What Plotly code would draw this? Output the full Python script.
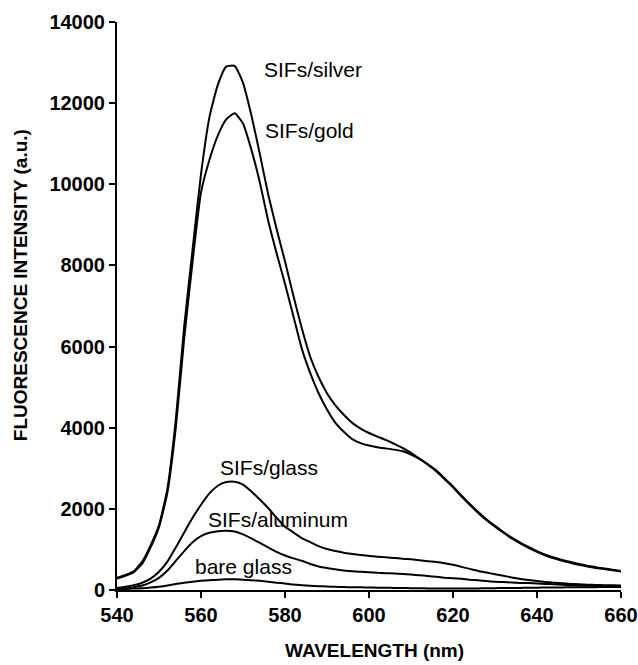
import plotly.graph_objects as go

wavelength = list(range(540, 661, 2))

sifs_silver = [300, 370, 460, 700, 1100, 1600, 2500, 4200, 6500, 8400,
               10250, 11650, 12450, 12900, 12920, 12500, 11700, 10750, 9750, 8900,
               8100, 7250, 6450, 5750, 5250, 4850, 4550, 4320, 4120, 3980,
               3870, 3780, 3700, 3600, 3500, 3380, 3240, 3100, 2950, 2750,
               2550, 2330, 2120, 1920, 1740, 1580, 1430, 1290, 1170, 1060,
               960, 870, 800, 740, 690, 640, 600, 560, 530, 500, 470]

sifs_gold = [280, 350, 440, 650, 1050, 1550, 2400, 4000, 6200, 8100,
             9800, 10600, 11200, 11600, 11750, 11500, 10850, 10050, 9100, 8300,
             7550, 6750, 5950, 5350, 4850, 4450, 4120, 3900, 3720, 3620,
             3560, 3520, 3490, 3460, 3420, 3340, 3230, 3090, 2930, 2730,
             2530, 2310, 2100, 1900, 1720, 1560, 1410, 1270, 1150, 1040,
             940, 850, 780, 720, 670, 620, 580, 545, 515, 485, 455]

sifs_glass = [50, 80, 120, 180, 280, 450, 700, 1050, 1420, 1780,
              2100, 2380, 2570, 2660, 2670, 2600, 2430, 2230, 2020, 1780,
              1560, 1420, 1280, 1180, 1080, 1010, 960, 920, 890, 860,
              840, 820, 805, 790, 770, 755, 735, 710, 690, 660,
              620, 570, 520, 470, 430, 390, 350, 310, 270, 245,
              220, 200, 180, 165, 150, 140, 130, 125, 120, 115, 110]

sifs_aluminum = [20, 40, 70, 110, 190, 300, 480, 720, 960, 1180,
                 1330, 1410, 1450, 1460, 1440, 1370, 1270, 1160, 1050, 940,
                 850, 780, 720, 640, 580, 540, 510, 480, 460, 450,
                 440, 425, 415, 405, 395, 380, 365, 345, 325, 305,
                 290, 275, 255, 240, 220, 205, 195, 185, 175, 170,
                 160, 150, 140, 130, 120, 110, 105, 100, 95, 90, 85]

bare_glass = [20, 25, 35, 45, 60, 80, 110, 150, 180, 205,
              225, 240, 255, 262, 265, 255, 240, 225, 205, 180,
              160, 135, 120, 105, 95, 85, 78, 72, 68, 65,
              62, 58, 55, 52, 50, 45, 42, 40, 38, 36,
              35, 36, 38, 40, 42, 45, 48, 50, 52, 55,
              58, 60, 62, 64, 66, 68, 70, 70, 72, 72, 72]

series = [("SIFs/silver", sifs_silver), ("SIFs/gold", sifs_gold),
          ("SIFs/glass", sifs_glass), ("SIFs/aluminum", sifs_aluminum),
          ("bare glass", bare_glass)]

# label positions (wavelength, intensity)
label_names = ["SIFs/silver", "SIFs/gold", "SIFs/glass", "SIFs/aluminum", "bare glass"]
label_x = [574.5, 574.8, 564.0, 561.2, 558.1]
label_y = [12840, 11330, 3012, 1750, 590]

x_ticks = [540, 560, 580, 600, 620, 640, 660]
y_ticks = [0, 2000, 4000, 6000, 8000, 10000, 12000, 14000]

FONT = "Liberation Sans, Arial, sans-serif"

fig = go.Figure()
for name, vals in series:
    fig.add_trace(go.Scatter(x=wavelength, y=vals, mode="lines", name=name,
                             line=dict(color="black", width=2, shape="spline", smoothing=0.5),
                             showlegend=False, hoverinfo="skip"))

for n, lx, ly in zip(label_names, label_x, label_y):
    fig.add_annotation(x=lx, y=ly, text=n, showarrow=False, xanchor="left", yanchor="middle",
                       font=dict(family=FONT, size=21, color="black"))

fig.add_annotation(x=-0.19, y=0.537, xref="paper", yref="paper", text="<b>FLUORESCENCE INTENSITY (a.u.)</b>",
                   textangle=-90, showarrow=False, xanchor="center", yanchor="middle",
                   font=dict(family=FONT, size=19, color="black"))
fig.add_annotation(x=0.51, y=-0.106, xref="paper", yref="paper", text="<b>WAVELENGTH (nm)</b>",
                   showarrow=False, xanchor="center", yanchor="middle",
                   font=dict(family=FONT, size=19, color="black"))

fig.update_layout(
    template="none",
    width=638, height=665,
    margin=dict(l=117, r=17, t=22, b=75),
    paper_bgcolor="white", plot_bgcolor="white",
    font=dict(family=FONT, color="black"),
)
fig.update_xaxes(range=[540, 660], tickvals=x_ticks, ticktext=[f"<b>{v}</b>" for v in x_ticks],
                 automargin=False,
                 showgrid=False, zeroline=False, showline=True, linecolor="black", linewidth=2,
                 ticks="outside", ticklen=6, tickwidth=1.5, tickcolor="black",
                 tickfont=dict(family=FONT, size=20, color="black"))
fig.update_yaxes(range=[0, 14000], tickvals=y_ticks, ticktext=[f"<b>{v}</b>" for v in y_ticks],
                 automargin=False,
                 showgrid=False, zeroline=False, showline=True, linecolor="black", linewidth=2,
                 ticks="outside", ticklen=6, tickwidth=1.5, tickcolor="black",
                 tickfont=dict(family=FONT, size=20, color="black"))

# remove the page's default body margin so the figure fills the window exactly
fig.write_html("out.html",
               config={"displayModeBar": False},
               post_script="document.body.style.margin='0';document.body.style.overflow='hidden';")
